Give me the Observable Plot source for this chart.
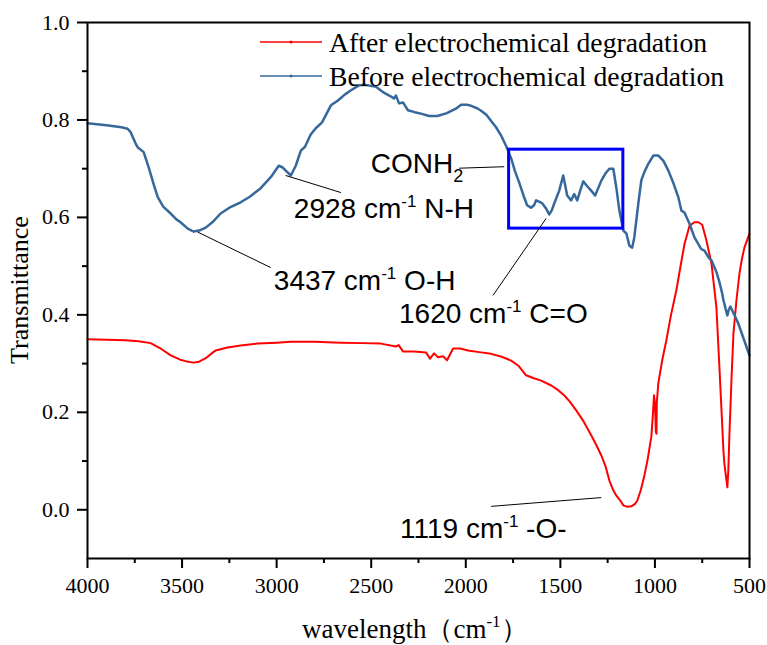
<!DOCTYPE html>
<html><head><meta charset="utf-8">
<script src="https://cdn.jsdelivr.net/npm/d3@7"></script>
<script src="https://cdn.jsdelivr.net/npm/@observablehq/plot@0.6"></script>
<style>
body{margin:0;background:#fff} svg{display:block}
</style>
</head><body><div id="chart"></div>
<script>
// Before electrochemical degradation (blue)
const wnBefore = [4000,3900,3820,3788,3772,3746,3735,3703,3677,3650,3629,3600,3560,3530,3508,3470,3439,3410,3375,3340,3296,3250,3190,3140,3084,3030,2989,2970,2952,2925,2899,2872,2850,2820,2793,2760,2713,2676,2640,2607,2565,2530,2475,2433,2395,2380,2369,2353,2332,2306,2270,2237,2195,2150,2100,2052,2025,1990,1972,1940,1919,1890,1866,1840,1813,1785,1760,1740,1718,1695,1676,1655,1639,1628,1610,1596,1575,1559,1545,1533,1506,1485,1474,1464,1443,1427,1411,1395,1379,1360,1337,1316,1284,1262,1241,1220,1204,1188,1167,1151,1135,1120,1109,1088,1072,1056,1035,1008,982,955,929,902,876,860,844,817,791,755,738,717,701,675,659,645,638,633,625,617,610,601,580,559,530,500];
const tBefore = [0.793,0.789,0.785,0.782,0.775,0.752,0.744,0.734,0.703,0.668,0.642,0.622,0.608,0.596,0.59,0.577,0.571,0.573,0.579,0.59,0.608,0.62,0.631,0.643,0.66,0.683,0.706,0.703,0.696,0.686,0.706,0.737,0.745,0.77,0.783,0.795,0.83,0.84,0.852,0.861,0.871,0.872,0.868,0.856,0.848,0.844,0.85,0.834,0.836,0.82,0.816,0.813,0.808,0.808,0.814,0.823,0.831,0.831,0.829,0.824,0.819,0.81,0.798,0.785,0.768,0.745,0.721,0.695,0.672,0.645,0.625,0.62,0.625,0.635,0.632,0.629,0.618,0.606,0.615,0.628,0.655,0.686,0.665,0.645,0.635,0.648,0.635,0.655,0.674,0.665,0.655,0.645,0.675,0.69,0.70,0.70,0.661,0.614,0.573,0.567,0.542,0.538,0.559,0.628,0.676,0.693,0.71,0.727,0.727,0.716,0.696,0.67,0.641,0.614,0.61,0.587,0.559,0.535,0.532,0.518,0.512,0.488,0.467,0.445,0.43,0.423,0.41,0.399,0.41,0.417,0.40,0.382,0.35,0.317];
// After electrochemical degradation (red)
const wnAfter = [4000,3900,3800,3730,3666,3610,3560,3510,3481,3440,3410,3375,3340,3322,3260,3190,3100,3000,2925,2800,2660,2550,2449,2369,2355,2332,2274,2210,2189,2168,2147,2120,2099,2067,2030,1988,1919,1866,1810,1760,1720,1681,1640,1601,1548,1510,1480,1450,1416,1380,1337,1310,1284,1260,1241,1220,1204,1185,1167,1145,1125,1105,1093,1075,1056,1040,1019,1010,1005,1000,995,992,990,982,960,940,915,887,860,844,817,791,770,750,728,701,675,659,645,638,633,625,617,612,606,595,585,569,553,540,527,500];
const tAfter = [0.35,0.349,0.348,0.346,0.342,0.33,0.317,0.308,0.305,0.302,0.304,0.311,0.322,0.327,0.333,0.337,0.341,0.343,0.345,0.345,0.343,0.342,0.341,0.335,0.338,0.325,0.325,0.323,0.31,0.321,0.313,0.315,0.307,0.331,0.331,0.327,0.323,0.32,0.314,0.306,0.295,0.276,0.27,0.265,0.255,0.245,0.235,0.222,0.204,0.183,0.153,0.133,0.112,0.088,0.06,0.04,0.029,0.02,0.009,0.006,0.007,0.012,0.019,0.04,0.07,0.1,0.15,0.2,0.235,0.22,0.16,0.156,0.22,0.26,0.31,0.347,0.4,0.45,0.51,0.545,0.583,0.59,0.59,0.585,0.553,0.505,0.416,0.292,0.18,0.122,0.095,0.07,0.046,0.08,0.156,0.27,0.361,0.43,0.485,0.515,0.538,0.567];

const seriesNames = ["After electrochemical degradation", "Before electrochemical degradation"];
const seriesColors = ["#ff0000", "#36689b"];

const xTicks = [4000,3500,3000,2500,2000,1500,1000,500];
const xMinor = [3750,3250,2750,2250,1750,1250,750];
const yTicks = [0,0.2,0.4,0.6,0.8,1.0];
const yMinor = [0.1,0.3,0.5,0.7,0.9];

// annotations
const annoX = [3015, 2909, 2502, 2353, 2348];
const annoY = [0.469, 0.618, 0.709, 0.401, -0.04];
const annoPre = ["3437 cm", "2928 cm", "CONH", "1620 cm", "1119 cm"];
const annoSup = ["-1", "-1", "", "-1", "-1"];
const annoSub = ["", "", "2", "", ""];
const annoPost = [" O-H", " N-H", "", " C=O", " -O-"];
const leadX1 = [3418, 2952, 2035, 1575, 1866];
const leadY1 = [0.57, 0.686, 0.701, 0.598, 0.007];
const leadX2 = [3031, 2660, 1797, 1856, 1284];
const leadY2 = [0.497, 0.651, 0.704, 0.44, 0.025];
const boxX = [1771, 1167];
const boxY = [0.577, 0.739];

const before = wnBefore.map((x, i) => ({x, y: tBefore[i]}));
const after = wnAfter.map((x, i) => ({x, y: tAfter[i]}));
const annos = annoX.map((x, i) => ({x, y: annoY[i], pre: annoPre[i], sup: annoSup[i], sub: annoSub[i], post: annoPost[i]}));
const leaders = leadX1.map((x1, i) => ({x1, y1: leadY1[i], x2: leadX2[i], y2: leadY2[i]}));
const box = [{x1: boxX[0], x2: boxX[1], y1: boxY[0], y2: boxY[1]}];

const serif = "Liberation Serif";
const svg = Plot.plot({
  width: 767, height: 645,
  marginLeft: 87, marginRight: 18, marginTop: 22, marginBottom: 87,
  style: {fontFamily: serif, fontSize: "22px", color: "#000", background: "#fff", overflow: "visible"},
  x: {domain: [4000, 500]},
  y: {domain: [-0.1, 1.0]},
  marks: [
    Plot.axisX(xTicks, {tickSize: 10, tickPadding: 9, strokeWidth: 2, fontSize: 22, label: null, tickFormat: d => String(d)}),
    Plot.axisX(xMinor, {tickSize: 5, strokeWidth: 2, label: null, tickFormat: () => ""}),
    Plot.axisY(yTicks, {tickSize: 10, tickPadding: 8, strokeWidth: 2, fontSize: 22, label: null, tickFormat: d3.format(".1f")}),
    Plot.axisY(yMinor, {tickSize: 5, strokeWidth: 2, label: null, tickFormat: () => ""}),
    Plot.line(after, {x: "x", y: "y", stroke: seriesColors[0], strokeWidth: 2}),
    Plot.line(before, {x: "x", y: "y", stroke: seriesColors[1], strokeWidth: 2.5}),
    Plot.rect(box, {x1: "x1", x2: "x2", y1: "y1", y2: "y2", fill: "none", stroke: "#0000ff", strokeWidth: 3}),
    Plot.link(leaders, {x1: "x1", y1: "y1", x2: "x2", y2: "y2", stroke: "#000", strokeWidth: 1}),
    Plot.text(annos, {x: "x", y: "y", text: "pre", textAnchor: "start", fontSize: 28, fill: "#000"}),
    Plot.frame({stroke: "#000", strokeWidth: 2})
  ]
});

const s = d3.select(svg);
// force serif on every text (tick labels etc.)
s.selectAll("text").each(function() {
  this.style.setProperty("font-family", "'Liberation Serif', serif", "important");
  this.style.setProperty("font-variant", "normal", "important");
});

// superscripts / subscripts in annotations (sans-serif, like the reference)
s.selectAll('g[aria-label="text"] text').each(function(i) {
  const a = annos[i];
  this.style.setProperty("font-family", "'Liberation Sans', sans-serif", "important");
  const t = d3.select(this);
  t.text(null);
  t.append("tspan").text(a.pre);
  if (a.sup) {
    t.append("tspan").attr("font-size", 17).attr("dy", -11).text(a.sup);
    t.append("tspan").attr("dy", 11).text(a.post);
  }
  if (a.sub) {
    t.append("tspan").attr("font-size", 18).attr("dy", 9).text(a.sub);
  }
});

// legend
const legY = [42, 76];
seriesNames.forEach((name, i) => {
  const g = s.append("g");
  g.append("line").attr("x1", 260).attr("x2", 322).attr("y1", legY[i]).attr("y2", legY[i])
    .attr("stroke", seriesColors[i]).attr("stroke-width", 1.5);
  g.append("circle").attr("cx", 291).attr("cy", legY[i]).attr("r", 1.5).attr("fill", seriesColors[i]);
  g.append("text").attr("x", 329).attr("y", legY[i] + 10).attr("text-anchor", "start")
    .style("font-family", serif).attr("font-size", 27.7).attr("fill", "#000").text(name);
});
// axis titles
s.append("text").attr("transform", "translate(28,290) rotate(-90)").attr("text-anchor", "middle")
  .style("font-family", serif).attr("font-size", 26).attr("fill", "#000").text("Transmittance");
const xt = s.append("text").attr("x", 302).attr("y", 638).attr("text-anchor", "start")
  .style("font-family", serif).attr("font-size", 27).attr("fill", "#000");
xt.append("tspan").text("wavelength（cm");
xt.append("tspan").attr("font-size", 17).attr("dy", -11).text("-1");
xt.append("tspan").attr("dy", 11).text("）");

document.getElementById("chart").appendChild(svg);
</script>
</body></html>
